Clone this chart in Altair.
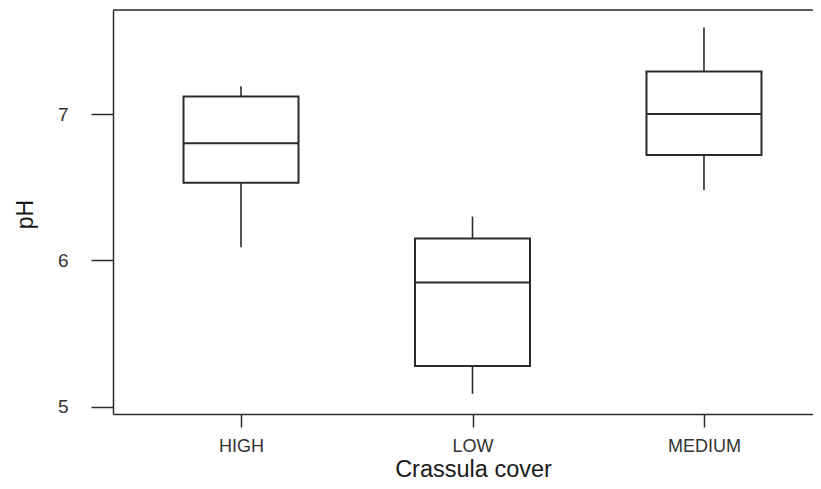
import altair as alt
import pandas as pd

categories = ["HIGH", "LOW", "MEDIUM"]
whisker_low = [6.09, 5.09, 6.48]
q1 = [6.53, 5.28, 6.72]
median = [6.80, 5.85, 7.00]
q3 = [7.12, 6.15, 7.29]
whisker_high = [7.19, 6.30, 7.59]

df = pd.DataFrame({
    "cover": categories,
    "lo": whisker_low,
    "q1": q1,
    "med": median,
    "q3": q3,
    "hi": whisker_high,
})

FONT = "Liberation Sans"
LINE = "#2b2b2b"

xscale = alt.Scale(type="point", domain=categories, range=[0, 719], padding=0.553)
yscale = alt.Scale(domain=[4.952, 7.71], nice=False, zero=False)

xaxis = alt.Axis(
    title="Crassula cover", titleFont=FONT, titleFontSize=23.5, titleFontWeight="normal",
    titleColor="#1a1a1a", titleX=360, titleY=62, titleBaseline="alphabetic", titleAnchor="start",
    titleAlign="center",
    labelFont=FONT, labelFontSize=18, labelColor="#333333", labelPadding=10, labelAngle=0,
    tickSize=13, tickColor=LINE, tickWidth=1.5, domainColor=LINE, domainWidth=1.5,
    grid=False, labelBaseline="top",
)
yaxis = alt.Axis(
    title="pH", titleFont=FONT, titleFontSize=23, titleFontWeight="normal", titleColor="#1a1a1a",
    titleAngle=270, titleX=-88, titleY=204, titleAlign="center", titleBaseline="middle",
    titleAnchor="start",
    values=[5, 6, 7], labelFont=FONT, labelFontSize=19, labelColor="#333333", labelPadding=23,
    tickSize=22, tickColor=LINE, tickWidth=1.5, domainColor=LINE, domainWidth=1.5, grid=False,
)

def X():
    return alt.X("cover:N", scale=xscale, axis=xaxis, sort=categories)

base = alt.Chart(df)

whiskers = base.mark_rule(color=LINE, strokeWidth=1.6).encode(
    x=X(),
    y=alt.Y("lo:Q", scale=yscale, axis=yaxis),
    y2="hi:Q",
)
boxes = base.mark_bar(fill="white", stroke=LINE, strokeWidth=2, size=115).encode(
    x=X(),
    y=alt.Y("q1:Q", scale=yscale, axis=yaxis),
    y2="q3:Q",
)
medians = base.mark_tick(color=LINE, size=115, thickness=2, opacity=1).encode(
    x=X(),
    y=alt.Y("med:Q", scale=yscale, axis=yaxis),
)
top_line = alt.Chart(pd.DataFrame({"a": [0]})).mark_rule(color=LINE, strokeWidth=1.5).encode(
    x=alt.value(0), x2=alt.value(719), y=alt.value(0)
)

chart = alt.layer(whiskers, boxes, medians, top_line).properties(
    width=700,
    height=404,
    autosize=alt.AutoSizeParams(type="none"),
    padding={"left": 105, "top": 2, "right": 0, "bottom": 67},
).configure_view(stroke=None).configure(background="white")

chart.save("out.html", embed_options={"renderer": "svg", "actions": False})
